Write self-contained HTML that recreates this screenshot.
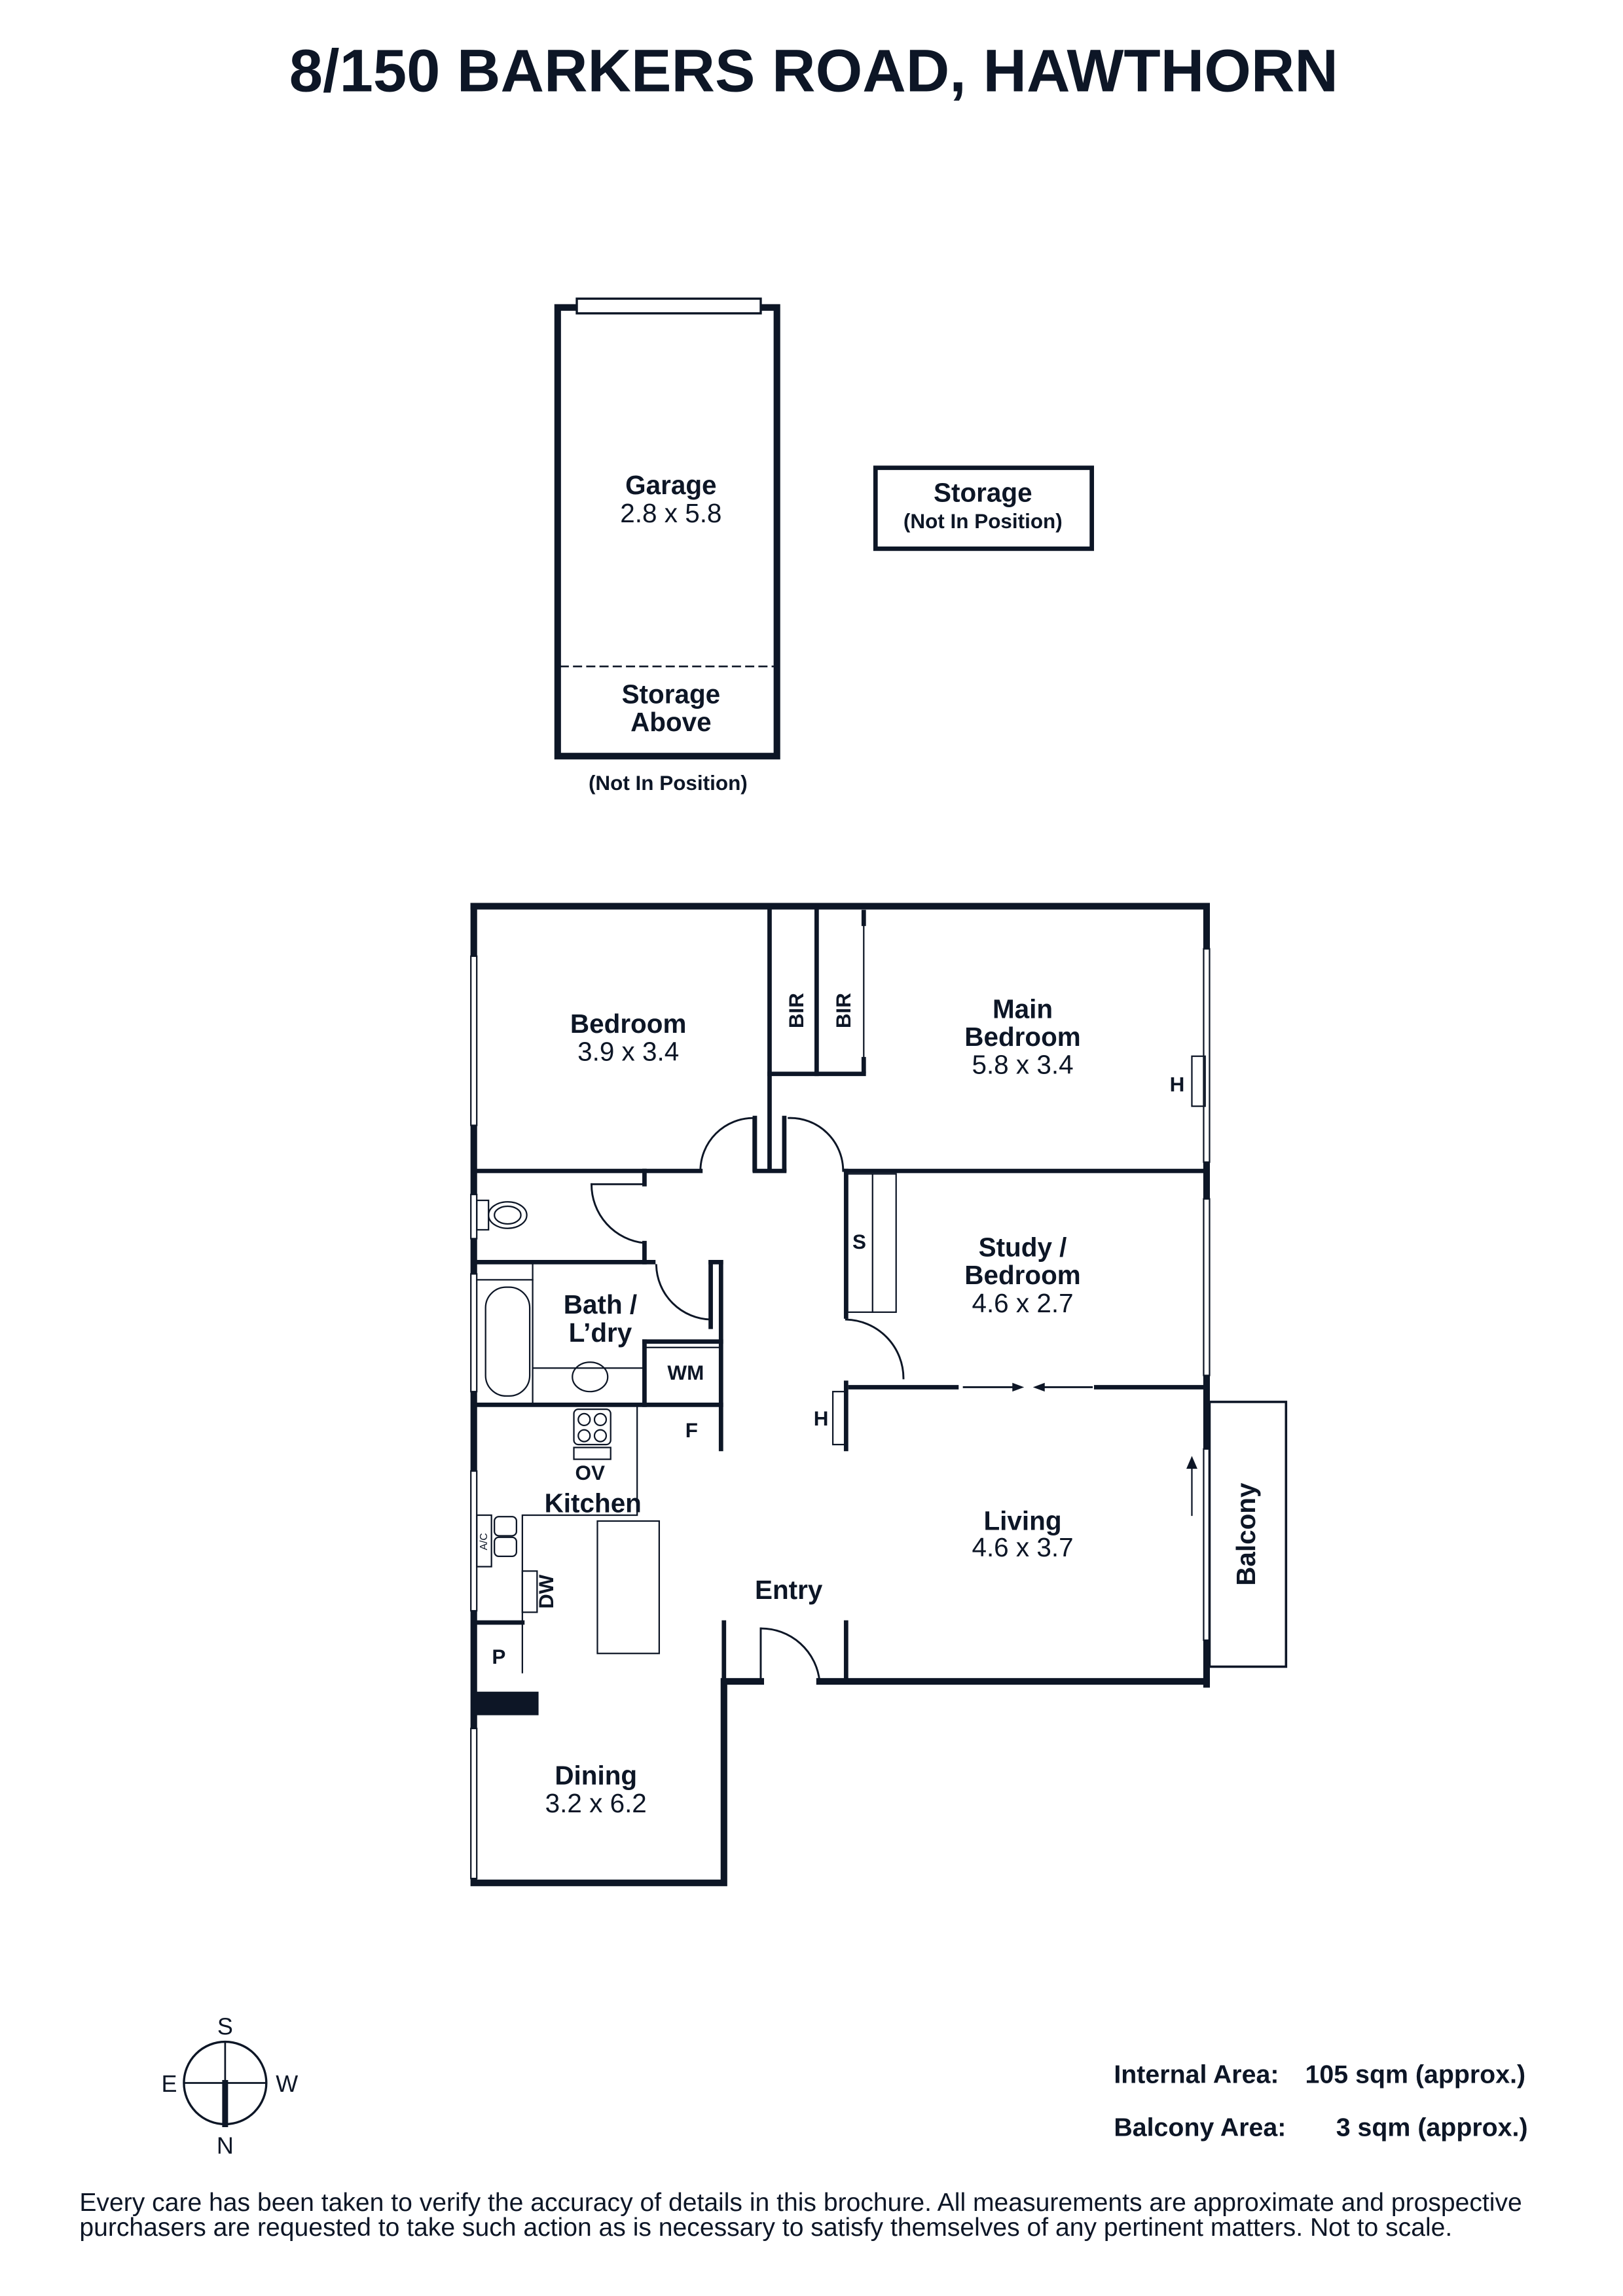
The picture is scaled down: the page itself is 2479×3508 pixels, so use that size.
<!DOCTYPE html>
<html><head><meta charset="utf-8"><style>
html,body{margin:0;padding:0;background:#fff;}
svg{display:block;}
text{font-family:"Liberation Sans",sans-serif;fill:#0d1626;}
.b{font-weight:bold;}
</style></head><body>
<svg width="2479" height="3508" viewBox="0 0 1103 1560.8" xmlns="http://www.w3.org/2000/svg">
<g stroke="#0d1626" fill="none" stroke-linecap="square">
<rect x="379" y="209" width="149" height="305" stroke-width="4.5"/>
<rect x="392" y="203" width="125" height="10" stroke-width="1.5" fill="#fff"/>
<line x1="381" y1="453" x2="526" y2="453" stroke-width="1.2" stroke-dasharray="5,4"/>
<rect x="595" y="318" width="147" height="55" stroke-width="3"/>
<polyline points="322,616 820,616 820,1145" stroke-width="4.5"/>
<polyline points="322,616 322,1280 492,1280 492,1143 517,1143" stroke-width="4.5"/>
<line x1="557" y1="1143" x2="820" y2="1143" stroke-width="4.5"/>
<g stroke-width="1" fill="#fff">
<rect x="320" y="650" width="4" height="115"/>
<rect x="320" y="812" width="4" height="30"/>
<rect x="320" y="866" width="4" height="80"/>
<rect x="320" y="1000" width="4" height="95"/>
<rect x="320" y="1175" width="4" height="102"/>
<rect x="818" y="645" width="4" height="145"/>
<rect x="818" y="815" width="4" height="120"/>
<rect x="818" y="985" width="4" height="130"/>
</g>
<g stroke-width="3">
<line x1="523" y1="616" x2="523" y2="795"/>
<line x1="555" y1="616" x2="555" y2="730"/>
<line x1="523" y1="730" x2="587" y2="730"/>
<line x1="587" y1="620" x2="587" y2="628"/>
<line x1="587" y1="720" x2="587" y2="728"/>
<line x1="513" y1="760" x2="513" y2="795"/>
<line x1="533" y1="760" x2="533" y2="795"/>
</g>
<line x1="587" y1="628" x2="587" y2="720" stroke-width="1"/>
<g stroke-width="3">
<line x1="322" y1="796" x2="476" y2="796"/>
<line x1="513" y1="796" x2="533" y2="796"/>
<line x1="575" y1="796" x2="820" y2="796"/>
<line x1="438" y1="796" x2="438" y2="805"/>
<line x1="438" y1="845" x2="438" y2="858"/>
<line x1="322" y1="858" x2="444" y2="858"/>
<line x1="490" y1="858" x2="490" y2="985"/>
<line x1="483" y1="858" x2="490" y2="858"/>
<line x1="483" y1="858" x2="483" y2="902"/>
<line x1="438" y1="912" x2="438" y2="955"/>
<line x1="438" y1="912" x2="490" y2="912"/>
<line x1="322" y1="955" x2="490" y2="955"/>
<line x1="575" y1="796" x2="575" y2="895"/>
<line x1="575" y1="940" x2="575" y2="985"/>
<line x1="578" y1="943" x2="650" y2="943"/>
<line x1="745" y1="943" x2="820" y2="943"/>
<line x1="492" y1="1103" x2="492" y2="1143"/>
<line x1="575" y1="1103" x2="575" y2="1143"/>
</g>
<g stroke-width="1.3">
<path d="M476,796 A36,36 0 0 1 512,760"/><line x1="512" y1="760" x2="512" y2="796"/>
<path d="M573,796 A36,36 0 0 0 536,760"/>
<path d="M402,805 A40,40 0 0 0 438,845"/><line x1="402" y1="805" x2="438" y2="805"/>
<path d="M446,860 A38,38 0 0 0 483,897"/>
<path d="M575,897 A40,40 0 0 1 614,937"/>
<path d="M517,1107 A40,40 0 0 1 557,1143"/><line x1="517" y1="1107" x2="517" y2="1143"/>
<line x1="655" y1="943" x2="688" y2="943"/><line x1="710" y1="943" x2="742" y2="943"/>
</g>
<path d="M688,940 L696,943 L688,946Z M702,943 L710,940 L710,946Z" fill="#0d1626" stroke="none"/>
<g stroke-width="1">
<rect x="576" y="798" width="33" height="94"/>
<line x1="593" y1="798" x2="593" y2="892"/>
<rect x="566" y="946" width="9" height="36"/>
<rect x="810" y="718" width="9" height="34"/>
<rect x="324" y="816" width="8" height="20"/>
<ellipse cx="345" cy="826" rx="13" ry="9"/><ellipse cx="345" cy="826" rx="9" ry="6"/>
<line x1="324" y1="870" x2="362" y2="870"/>
<line x1="362" y1="858" x2="362" y2="955"/>
<rect x="330" y="875" width="30" height="74" rx="14"/>
<line x1="362" y1="930" x2="438" y2="930"/>
<ellipse cx="401" cy="936" rx="12" ry="10"/>
<line x1="438" y1="916" x2="490" y2="916"/>
<polyline points="433,955 433,1030 355,1030 355,1137"/>
<rect x="390" y="958" width="25" height="24" rx="3"/>
<circle cx="397" cy="965" r="4"/><circle cx="408" cy="965" r="4"/><circle cx="397" cy="976" r="4"/><circle cx="408" cy="976" r="4"/>
<rect x="390" y="984" width="25" height="8"/>
<rect x="324" y="1030" width="10" height="35"/>
<rect x="336" y="1031" width="15" height="13" rx="3"/><rect x="336" y="1045" width="15" height="13" rx="3"/>
<rect x="355" y="1068" width="10" height="28"/>
<rect x="406" y="1034" width="42" height="90"/>
<rect x="822" y="953" width="52" height="180" stroke-width="1.6"/>
<line x1="810" y1="992" x2="810" y2="1030"/>
</g>
<path d="M807,998 L810,991 L813,998Z" fill="#0d1626"/>
<rect x="322" y="1150" width="44" height="16" fill="#0d1626" stroke="none"/>
<line x1="324" y1="1103" x2="355" y2="1103" stroke-width="3"/>
<circle cx="153" cy="1416" r="28" stroke-width="1.5"/>
<line x1="125" y1="1416" x2="181" y2="1416" stroke-width="1.2"/>
<line x1="153" y1="1388" x2="153" y2="1416" stroke-width="1.2"/>
<line x1="153" y1="1416" x2="153" y2="1444" stroke-width="4"/>
</g>
<text x="553" y="62" text-anchor="middle" class="b" font-size="41">8/150 BARKERS ROAD, HAWTHORN</text>
<g text-anchor="middle" font-size="18">
<text x="456" y="336" class="b">Garage</text><text x="456" y="355">2.8 x 5.8</text>
<text x="456" y="478" class="b">Storage</text><text x="456" y="497" class="b">Above</text>
<text x="454" y="537" class="b" font-size="14">(Not In Position)</text>
<text x="668" y="341" class="b">Storage</text><text x="668" y="359" class="b" font-size="14">(Not In Position)</text>
<text x="427" y="702" class="b">Bedroom</text><text x="427" y="721">3.9 x 3.4</text>
<text x="695" y="692" class="b">Main</text><text x="695" y="711" class="b">Bedroom</text><text x="695" y="730">5.8 x 3.4</text>
<text x="695" y="854" class="b">Study /</text><text x="695" y="873" class="b">Bedroom</text><text x="695" y="892">4.6 x 2.7</text>
<text x="408" y="893" class="b">Bath /</text><text x="408" y="912" class="b">L’dry</text>
<text x="403" y="1028" class="b">Kitchen</text>
<text x="536" y="1087" class="b">Entry</text>
<text x="695" y="1040" class="b">Living</text><text x="695" y="1058">4.6 x 3.7</text>
<text x="405" y="1213" class="b">Dining</text><text x="405" y="1232">3.2 x 6.2</text>
<text x="584" y="849" class="b" font-size="14">S</text>
<text x="466" y="938" class="b" font-size="14">WM</text>
<text x="470" y="977" class="b" font-size="14">F</text>
<text x="401" y="1006" class="b" font-size="14">OV</text>
<text x="558" y="969" class="b" font-size="14">H</text>
<text x="800" y="742" class="b" font-size="14">H</text>
<text x="339" y="1131" class="b" font-size="14">P</text>
<text x="153" y="1383" font-size="16">S</text>
<text x="153" y="1464" font-size="16">N</text>
<text x="115" y="1422" font-size="16">E</text>
<text x="195" y="1422" font-size="16">W</text>
</g>
<text transform="translate(546,687) rotate(-90)" text-anchor="middle" class="b" font-size="14">BIR</text>
<text transform="translate(578,687) rotate(-90)" text-anchor="middle" class="b" font-size="14">BIR</text>
<text transform="translate(376,1082) rotate(-90)" text-anchor="middle" class="b" font-size="14">DW</text>
<text transform="translate(331,1048) rotate(-90)" text-anchor="middle" font-size="7">A/C</text>
<text transform="translate(853,1043) rotate(-90)" text-anchor="middle" class="b" font-size="18">Balcony</text>
<g font-size="17.5">
<text x="757" y="1416" class="b">Internal Area:</text><text x="887" y="1416" class="b">105 sqm (approx.)</text>
<text x="757" y="1452" class="b">Balcony Area:</text><text x="908" y="1452" class="b">3 sqm (approx.)</text>
</g>
<text x="54" y="1503" font-size="17.4">Every care has been taken to verify the accuracy of details in this brochure. All measurements are approximate and prospective</text>
<text x="54" y="1520" font-size="17.4">purchasers are requested to take such action as is necessary to satisfy themselves of any pertinent matters. Not to scale.</text>
</svg>
</body></html>
